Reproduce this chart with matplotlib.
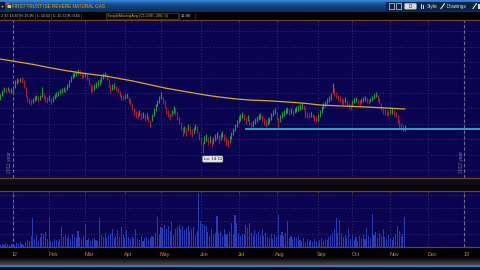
import numpy as np
import matplotlib
matplotlib.use("Agg")
import matplotlib.pyplot as plt
from matplotlib.colors import LinearSegmentedColormap
from matplotlib.patches import Rectangle, FancyBboxPatch
import matplotlib.transforms as mtrans

plt.rcParams['font.family'] = ['Liberation Sans', 'DejaVu Sans']

# ---------------- data ----------------
title = "FIRST TRUST ISE REVERE NATURAL GAS"
info_items = ["2", "O: 15.57", "H: 15.95", "L: 15.53", "C: 15.72", "R: 0.43"]
study_label = "SimpleMovingAvg (CLOSE, 200, 0)"
study_value = "16.96"
company_text = "ade IP, Company, Inc."

first_bar = -7   # bars before the first trading day of 2012

highs = [17.93, 18.19, 18.39, 18.32, 18.39, 18.26, 18.32,
         18.45, 18.84, 18.97, 18.90, 18.97, 19.03, 18.84, 18.39, 17.80, 17.67,
         17.61, 17.67, 17.80, 17.87, 17.80, 17.87, 18.39, 18.00, 17.80, 17.74,
         17.87, 17.67, 17.80, 17.93, 18.06, 18.13, 18.26, 18.32, 18.39, 18.32,
         18.58, 18.84, 19.10, 19.29, 19.36, 19.42, 19.55, 19.49, 19.36, 19.29,
         19.36, 19.23, 18.97, 18.58, 18.45, 18.58, 18.71, 18.84, 18.90, 19.10,
         19.29, 19.36, 19.23, 18.90, 18.51, 18.58, 18.64, 18.45, 18.32, 18.13,
         17.93, 17.80, 17.93, 18.00, 17.74, 17.61, 17.28, 17.03, 16.83, 16.77,
         16.90, 16.70, 16.77, 16.64, 16.70, 16.51, 16.25, 16.64, 17.03, 17.28,
         17.54, 17.80, 18.06, 17.74, 17.54, 17.09, 16.90, 16.70, 16.90, 17.16,
         17.03, 16.77, 16.44, 16.12, 15.80, 15.86, 15.73, 15.99, 15.86, 15.67,
         15.80, 15.99, 15.86, 15.47, 15.15, 14.83, 15.21, 15.34, 15.15, 15.21,
         15.02, 15.15, 15.34, 15.47, 15.28, 15.41, 15.54, 15.34, 15.15, 15.02,
         15.21, 15.47, 15.73, 15.99, 16.25, 16.51, 16.64, 16.77, 16.64, 16.44,
         16.57, 16.31, 16.12, 16.25, 16.38, 16.51, 16.64, 16.70, 16.57, 16.38,
         16.25, 16.38, 16.44, 16.70, 16.90, 17.03, 16.77, 16.38, 16.57, 16.77,
         16.90, 17.03, 17.09, 16.96, 17.03, 16.90, 17.03, 17.16, 17.22, 17.28,
         17.35, 17.22, 17.03, 16.77, 16.70, 16.77, 16.64, 16.57, 16.51, 16.64,
         16.90, 17.16, 17.35, 17.48, 17.67, 17.80, 18.00, 18.64, 18.32, 18.06,
         17.87, 17.80, 17.67, 17.61, 17.74, 17.54, 17.35, 17.28, 17.54, 17.67,
         17.74, 17.61, 17.54, 17.67, 17.74, 17.80, 17.67, 17.61, 17.67, 17.80,
         17.93, 18.06, 17.87, 17.67, 17.35, 17.03, 16.96, 16.90, 16.83, 16.96,
         17.03, 16.90, 16.77, 16.57, 16.25, 16.06, 15.93, 15.95]

lows = [17.54, 17.80, 18.06, 18.00, 18.13, 18.00, 18.00,
        18.06, 18.32, 18.58, 18.64, 18.71, 18.64, 18.32, 17.74, 17.41, 17.28,
        17.22, 17.35, 17.48, 17.54, 17.41, 17.54, 17.74, 17.61, 17.41, 17.35,
        17.48, 17.28, 17.41, 17.61, 17.74, 17.80, 17.93, 18.00, 18.06, 18.06,
        18.19, 18.39, 18.71, 18.97, 19.03, 19.10, 19.23, 19.16, 18.97, 18.97,
        19.03, 18.84, 18.51, 18.06, 18.06, 18.19, 18.32, 18.45, 18.51, 18.71,
        18.90, 19.03, 18.84, 18.39, 18.00, 18.19, 18.26, 18.13, 18.00, 17.74,
        17.54, 17.54, 17.61, 17.67, 17.35, 17.22, 16.90, 16.57, 16.38, 16.31,
        16.51, 16.25, 16.38, 16.18, 16.31, 16.12, 15.80, 16.18, 16.51, 16.83,
        17.16, 17.35, 17.61, 17.28, 17.03, 16.64, 16.44, 16.25, 16.51, 16.70,
        16.57, 16.25, 15.99, 15.60, 15.21, 15.41, 15.21, 15.54, 15.34, 15.15,
        15.34, 15.60, 15.41, 14.95, 14.63, 14.11, 14.70, 14.89, 14.63, 14.76,
        14.50, 14.70, 14.89, 15.02, 14.76, 14.95, 15.15, 14.89, 14.63, 14.50,
        14.76, 15.02, 15.28, 15.54, 15.80, 16.06, 16.18, 16.38, 16.25, 15.99,
        16.18, 15.93, 15.73, 15.80, 15.99, 16.12, 16.25, 16.31, 16.18, 15.93,
        15.80, 15.93, 16.06, 16.25, 16.51, 16.64, 16.25, 15.80, 16.12, 16.38,
        16.51, 16.64, 16.70, 16.57, 16.64, 16.51, 16.70, 16.77, 16.83, 16.90,
        16.96, 16.90, 16.38, 16.38, 16.38, 16.44, 16.38, 16.18, 16.12, 16.18,
        16.44, 16.70, 16.96, 17.09, 17.28, 17.41, 17.54, 18.00, 17.80, 17.67,
        17.48, 17.41, 17.28, 17.22, 17.35, 17.16, 16.96, 16.90, 17.16, 17.35,
        17.41, 17.28, 17.22, 17.35, 17.41, 17.48, 17.35, 17.28, 17.41, 17.48,
        17.61, 17.74, 17.48, 17.28, 16.90, 16.64, 16.57, 16.57, 16.51, 16.64,
        16.64, 16.51, 16.44, 16.06, 15.80, 15.60, 15.54, 15.53]

# volume in thousands of shares
volume_k = [50, 75, 50, 100, 75, 50, 75,
            75, 50, 100, 75, 125, 75, 50, 125, 175, 150,
            275, 725, 200, 300, 150, 250, 350, 325, 375, 200,
            725, 150, 125, 200, 175, 150, 200, 500, 250, 300,
            225, 275, 200, 325, 250, 225, 400, 250, 200, 275,
            550, 175, 225, 150, 200, 225, 175, 150, 725, 300,
            250, 350, 225, 275, 325, 450, 225, 275, 425, 250,
            500, 300, 225, 425, 250, 200, 275, 225, 450, 200,
            175, 275, 150, 225, 250, 200, 225, 275, 250, 350,
            750, 300, 500, 475, 550, 450, 525, 400, 625, 300,
            450, 500, 550, 450, 525, 425, 475, 525, 400, 450,
            500, 300, 400, 1350, 650, 575, 550, 525, 375, 275,
            450, 325, 350, 775, 350, 400, 275, 450, 325, 300,
            375, 600, 300, 800, 600, 350, 275, 325, 300, 550,
            475, 600, 350, 275, 425, 325, 375, 300, 450, 275,
            350, 250, 225, 325, 200, 300, 250, 800, 300, 375,
            275, 350, 650, 225, 275, 200, 250, 225, 275, 175,
            150, 225, 125, 200, 150, 175, 125, 200, 150, 100,
            175, 225, 150, 200, 175, 250, 300, 350, 450, 725,
            350, 675, 325, 250, 300, 225, 450, 200, 300, 175,
            250, 150, 275, 225, 325, 200, 475, 275, 225, 825,
            300, 375, 225, 350, 275, 450, 250, 200, 300, 225,
            175, 250, 325, 525, 400, 275, 325, 750]

# 200-day simple moving average (bar index, value)
sma_idx = [-7.2, 11, 20.5, 29.7, 39, 51, 66.5, 85, 106.4, 112.8,
           122, 131, 140.5, 149.8, 161.8, 170, 181, 192, 203, 217]
sma_val = [20.20, 19.85, 19.63, 19.44, 19.27, 19.10, 18.77, 18.30, 17.87, 17.76,
           17.63, 17.54, 17.50, 17.43, 17.33, 17.22, 17.16, 17.11, 17.05, 16.96]

support_price = 15.67
support_start = 128.5

month_idx = [0, 20, 40, 62, 82, 104, 125, 146, 169, 188, 209, 230, 250]
month_lbl = ['12', 'Feb', 'Mar', 'Apr', 'May', 'Jun', 'Jul', 'Aug', 'Sep',
             'Oct', 'Nov', 'Dec', '13']
year_idx = [0, 250]
year_lbl = ['2011 year', '2012 year']
price_grid = [13, 14, 15, 16, 17, 18, 19, 20, 21, 22]
vol_grid = [325, 650, 975, 1300]

# ---------------- style ----------------
W, H = 480, 270
BG = '#0a0450'
BROWN = '#6e4322'
GRIDC = '#424278'
XMIN, XMAX = -7.2, 258.7

fig = plt.figure(figsize=(4.8, 2.7), dpi=100)
fig.patch.set_facecolor('black')

# chrome layer (pixel coordinates)
chrome = fig.add_axes([0, 0, 1, 1], zorder=0)
chrome.set_axis_off()
grad = np.linspace(0, 1, 40).reshape(-1, 1)
cm_t = LinearSegmentedColormap.from_list('t', ['#3a8ae0', '#164f92', '#0d3b72', '#0a2f5c'])
chrome.imshow(grad, extent=[0, W, 12, 0], aspect='auto', cmap=cm_t, interpolation='bilinear')
cm_b = LinearSegmentedColormap.from_list('b', ['#000000', '#262626', '#4a4a4a'])
chrome.imshow(grad, extent=[0, W, 265, 257.5], aspect='auto', cmap=cm_b, interpolation='bilinear')
chrome.add_patch(Rectangle((0, 265), W, 2.2, fc='#2f78dc', ec='none'))
chrome.add_patch(Rectangle((0, 267.2), W, 3, fc='#060c18', ec='none'))
# info bar
chrome.add_patch(Rectangle((0, 12), W, 8, fc='#030305', ec='none'))
for s in [3.5, 18.5, 35, 51, 66.5, 81, 105.5, 178.5, 195]:
    chrome.plot([s, s], [12.8, 19.3], color='#34343e', lw=0.5)
chrome.add_patch(Rectangle((106, 12.8), 72, 6.5, fc='none', ec='#505058', lw=0.4))
info_x = [0.4, 5.3, 20.3, 37.0, 53.0, 68.3]
for xx, t in zip(info_x, info_items):
    chrome.text(xx, 16.1, t, color='#d0d0d0', fontsize=2.65, va='center', ha='left')
chrome.text(107.3, 16.1, study_label, color='#e8b020', fontsize=2.75, va='center', ha='left')
chrome.text(180.5, 16.1, study_value, color='#dcdcdc', fontsize=2.75, va='center', ha='left')
# title bar content
chrome.add_patch(Rectangle((0, 1.8), 5, 8.4, fc='#081a34', ec='none'))
chrome.text(2.5, 6.2, '+', color='white', fontsize=3.5, ha='center', va='center')
chrome.add_patch(Rectangle((6.3, 3.2), 2.8, 2.8, fc='#e03424', ec='none'))
chrome.add_patch(Rectangle((8.2, 5.4), 2.6, 2.8, fc='#f2c41e', ec='none'))
chrome.add_patch(Rectangle((6.5, 6.4), 1.8, 1.8, fc='#3a7ae8', ec='none'))
chrome.text(12, 6.3, title, color='#e6a41e', fontsize=3.3, va='center', ha='left')
# right-hand toolbar
chrome.add_patch(Rectangle((386, 1.5), 94, 9, fc='#082448', ec='none'))
for x0 in [388.5, 396]:
    chrome.add_patch(Rectangle((x0, 3.3), 5, 5.5, fc='none', ec='#d8d8e0', lw=0.5))
chrome.add_patch(FancyBboxPatch((404.5, 3.2), 12, 6, boxstyle='round,pad=0,rounding_size=1',
                                fc='#dcdcdc', ec='#8a8a8a', lw=0.4))
chrome.text(410.5, 6.3, 'D', color='#202020', fontsize=3.3, ha='center', va='center')
chrome.add_patch(Rectangle((420.5, 4.0), 1.2, 4.5, fc='#d8d8e0', ec='none'))
chrome.add_patch(Rectangle((422.5, 5.0), 1.2, 3.5, fc='#d8d8e0', ec='none'))
chrome.text(426.5, 6.3, 'Style', color='#e0e0e8', fontsize=3.4, ha='left', va='center')
chrome.plot([441, 444.5], [8.6, 3.6], color='#e0e0e8', lw=0.8)
chrome.text(446.5, 6.3, 'Drawings', color='#e0e0e8', fontsize=3.4, ha='left', va='center')
chrome.plot([473, 476.5], [8.6, 3.6], color='#e0e0e8', lw=0.8)
chrome.add_patch(Rectangle((477.5, 3.5), 2, 5, fc='#d8d8e0', ec='none'))
# separator band between panes
chrome.add_patch(Rectangle((0, 178), W, 6.5, fc='#0e0e16', ec='none'))
chrome.add_patch(Rectangle((0, 184.5), W, 6, fc='#040406', ec='none'))
chrome.text(0.5, 25.2, company_text, color='#9a9ab0', fontsize=3.2, va='center', ha='left', zorder=10)
chrome.set_xlim(0, W)
chrome.set_ylim(H, 0)

def style_pane(a):
    a.set_facecolor(BG)
    a.set_xlim(XMIN, XMAX)
    a.set_xticks(month_idx)
    a.tick_params(axis='x', top=True, bottom=False, direction='in', length=1.6,
                  width=0.6, color=BROWN, labelbottom=False, labeltop=False)
    a.tick_params(axis='y', left=False, right=False, labelleft=False, labelright=False)
    a.grid(True, color=GRIDC, lw=0.6, ls=(0, (1, 2.4)))
    a.set_axisbelow(True)
    for sp in ['left', 'right']:
        a.spines[sp].set_visible(False)
    for sp in ['top', 'bottom']:
        a.spines[sp].set_color(BROWN)
        a.spines[sp].set_linewidth(0.9)
    for yi in year_idx:
        a.axvline(yi, color='#6e6c8c', lw=0.8, ls=(0, (3, 2)), zorder=1.5)

# ---------------- price pane ----------------
ax = fig.add_axes([0, 1 - 178 / H, 1, 158 / H], zorder=2)
style_pane(ax)
ax.set_ylim(12.495, 22.722)
ax.set_yticks(price_grid)

hi = np.array(highs)
lo = np.array(lows)
idx = first_bar + np.arange(len(hi))
mid = (hi + lo) / 2
up = np.r_[True, mid[1:] >= mid[:-1]]
ax.vlines(idx[up], lo[up], hi[up], color='#1f9a3a', lw=0.85, zorder=3)
ax.vlines(idx[~up], lo[~up], hi[~up], color='#b01a30', lw=0.85, zorder=3)
ax.plot(sma_idx, sma_val, color='#e0a822', lw=0.9, zorder=4)
ax.hlines(support_price, support_start, XMAX, color='#1eaac8', lw=1.4, zorder=5)

k = int(np.argmin(lo))
ax.annotate(f"Lo: {lo[k]:.2f}", xy=(idx[k], lo[k]), xytext=(1, -4.0),
            textcoords='offset pixels', ha='left', va='top', fontsize=3.2, color='#101010',
            bbox=dict(boxstyle='round,pad=0.25', fc='#e6e6e6', ec='#9a9a9a', lw=0.3), zorder=6)

for yi, lab in zip(year_idx, year_lbl):
    ax.text(yi - 1.7, 12.80, lab, rotation=90, ha='center', va='bottom',
            fontsize=3.5, color='#7c7c9c', zorder=6)

# ---------------- volume pane ----------------
axv = fig.add_axes([0, 1 - 247 / H, 1, 56.5 / H], zorder=2)
style_pane(axv)
axv.set_ylim(0, 1412.5)
axv.set_yticks(vol_grid)
vidx = first_bar + np.arange(len(volume_k))
axv.bar(vidx, volume_k, width=0.6, color='#2a3cb4', lw=0, zorder=3)

tr = mtrans.blended_transform_factory(axv.transData, axv.transAxes)
for m, lab in zip(month_idx, month_lbl):
    axv.text(m - 0.6, -0.125, lab, transform=tr, ha='left', va='center',
             color='#c88a3a', fontsize=3.9, clip_on=False)

fig.savefig('out.png', dpi=100, facecolor=fig.get_facecolor())
